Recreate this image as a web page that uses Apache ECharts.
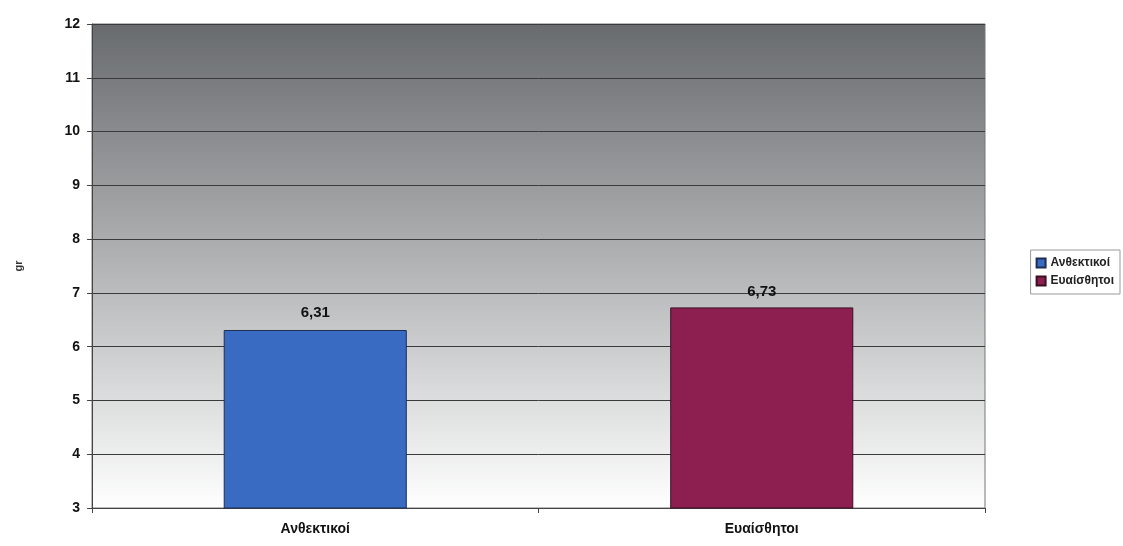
<!DOCTYPE html>
<html>
<head>
<meta charset="utf-8">
<script src="https://cdn.jsdelivr.net/npm/echarts@6/dist/echarts.min.js"></script>
<style>html,body{margin:0;padding:0;background:#fff}#c{width:1123px;height:546px}</style>
</head>
<body>
<div id="c"></div>
<script>
const categories = ['Ανθεκτικοί', 'Ευαίσθητοι'];
const seriesNames = ['Ανθεκτικοί', 'Ευαίσθητοι'];
const resistantValues = [6.31, null];
const sensitiveValues = [null, 6.73];
const yTicks = [3, 4, 5, 6, 7, 8, 9, 10, 11, 12];

const chart = echarts.init(document.getElementById('c'));
const font = 'Liberation Sans, Arial, sans-serif';
const labelFmt = p => p.value == null ? '' : String(p.value.toFixed(2)).replace('.', ',');
chart.setOption({
  animation: false,
  textStyle: { fontFamily: font },
  grid: {
    left: 92, right: 138, top: 24, bottom: 38,
    show: true,
    borderColor: '#777',
    borderWidth: 1,
    backgroundColor: new echarts.graphic.LinearGradient(0, 0, 0, 1, [
      { offset: 0, color: '#686b6e' },
      { offset: 0.5, color: '#b2b4b5' },
      { offset: 1, color: '#ffffff' }
    ])
  },
  legend: {
    orient: 'vertical',
    right: 3,
    top: 250,
    icon: 'rect',
    itemWidth: 9,
    itemHeight: 9,
    itemGap: 6,
    borderColor: '#999',
    borderWidth: 1,
    padding: [7, 6, 7, 5],
    backgroundColor: '#fff',
    textStyle: { fontFamily: font, fontWeight: 'bold', fontSize: 12, color: '#222' },
    data: seriesNames
  },
  xAxis: {
    type: 'category',
    data: categories,
    axisTick: { show: true, alignWithLabel: false, lineStyle: { color: '#444' } },
    axisLine: { lineStyle: { color: '#444' } },
    axisLabel: { fontFamily: font, fontWeight: 'bold', fontSize: 14, color: '#111', margin: 14 }
  },
  yAxis: {
    type: 'value',
    min: yTicks[0],
    max: yTicks[yTicks.length - 1],
    interval: 1,
    name: 'gr',
    nameLocation: 'middle',
    nameRotate: 90,
    nameGap: 68,
    nameTextStyle: { fontFamily: font, fontWeight: 'bold', fontSize: 11, color: '#333' },
    axisLine: { show: true, lineStyle: { color: '#444' } },
    axisTick: { show: true, lineStyle: { color: '#444' } },
    axisLabel: { fontFamily: font, fontWeight: 'bold', fontSize: 14, color: '#111', margin: 12 },
    splitLine: { lineStyle: { color: '#3a3a3a', width: 1 } }
  },
  series: [
    {
      name: seriesNames[0], type: 'bar', data: resistantValues,
      barWidth: '41%', barGap: '-100%',
      itemStyle: { color: '#3a6bc2', borderColor: '#1d2d55', borderWidth: 1 },
      label: { show: true, position: 'top', distance: 10, formatter: labelFmt,
        fontFamily: font, fontWeight: 'bold', fontSize: 15, color: '#111' }
    },
    {
      name: seriesNames[1], type: 'bar', data: sensitiveValues,
      barWidth: '41%', barGap: '-100%',
      itemStyle: { color: '#8c1f50', borderColor: '#3a0f22', borderWidth: 1 },
      label: { show: true, position: 'top', distance: 8, formatter: labelFmt,
        fontFamily: font, fontWeight: 'bold', fontSize: 15, color: '#111' }
    }
  ]
});
</script>
</body>
</html>
